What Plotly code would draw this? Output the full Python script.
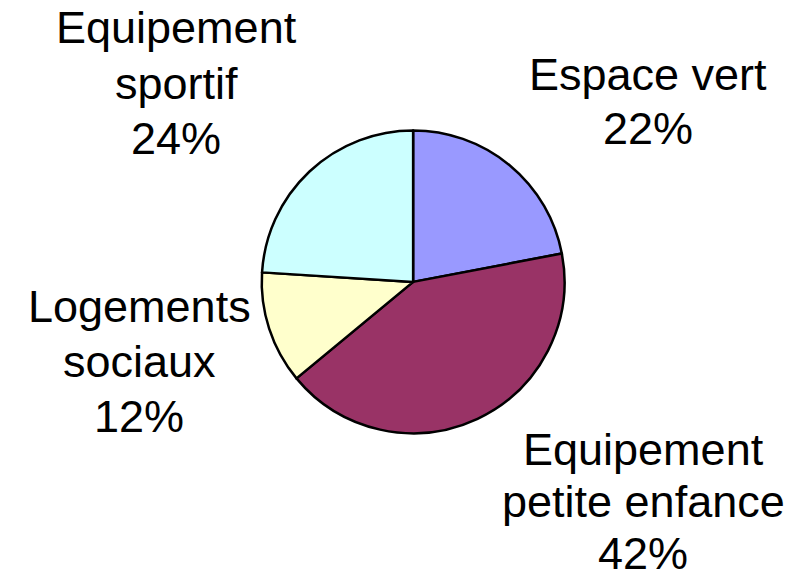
import plotly.graph_objects as go

categories = ["Espace vert", "Equipement petite enfance", "Logements sociaux", "Equipement sportif"]
label_lines = [["Espace vert"], ["Equipement", "petite enfance"], ["Logements", "sociaux"], ["Equipement", "sportif"]]
values = [22, 42, 12, 24]
colors = ["#9999FF", "#993366", "#FFFFCC", "#CCFFFF"]

# label placement: x centre and line centres in pixels (from top-left)
label_x_px = [648, 643, 139, 176]
label_y_px = [[74, 128], [449, 501, 553], [306, 361, 416], [28, 83, 138]]

W, H = 796, 580

fig = go.Figure(go.Pie(
    labels=categories,
    values=values,
    sort=False,
    direction="clockwise",
    rotation=0,
    marker=dict(colors=colors, line=dict(color="black", width=2.5)),
    textinfo="none",
    hoverinfo="label+percent",
    showlegend=False,
    domain=dict(x=[0.3, 0.738], y=[0.253, 0.775]),
))

total = sum(values)
for lines, v, xp, yps in zip(label_lines, values, label_x_px, label_y_px):
    texts = lines + [f"{round(100 * v / total)}%"]
    for t, yp in zip(texts, yps):
        fig.add_annotation(
            x=xp / W, y=1 - yp / H, xref="paper", yref="paper",
            text=t, showarrow=False, xanchor="center", yanchor="middle",
            font=dict(family="Liberation Sans, Arial, sans-serif", size=45, color="black"),
        )

fig.update_layout(
    width=W, height=H,
    margin=dict(l=0, r=0, t=0, b=0),
    paper_bgcolor="white", plot_bgcolor="white",
)
fig.write_html("out.html", config={"displayModeBar": False},
               post_script="document.body.style.margin='0';")
